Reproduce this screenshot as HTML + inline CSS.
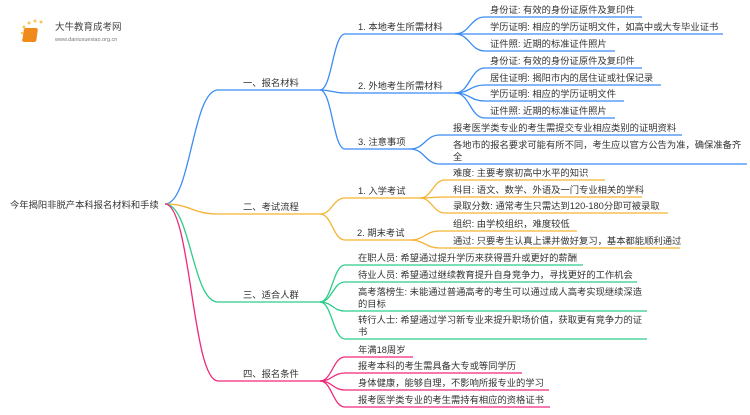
<!DOCTYPE html>
<html><head><meta charset="utf-8"><style>
body{margin:0;background:#fff;width:750px;height:410px;overflow:hidden}
svg text{font-family:"Liberation Sans","Noto Sans CJK SC",sans-serif;font-size:9.3px;fill:#333}
</style></head><body>
<svg width="750" height="410" xmlns="http://www.w3.org/2000/svg">
<g>
<circle cx="24" cy="27" r="1.5" fill="#f7c75a"/><circle cx="29" cy="23" r="1.5" fill="#f7c75a"/><circle cx="35" cy="21" r="1.5" fill="#f7c75a"/><circle cx="41" cy="22" r="1.5" fill="#f7c75a"/><circle cx="22" cy="33" r="1.3" fill="#f7c75a"/><circle cx="23" cy="40" r="1.2" fill="#f7c75a"/>
<rect x="28" y="28" width="14" height="14" rx="2" fill="#f08a1c" transform="skewX(-8)"/>
<text x="55" y="30" style="font-size:9.5px;fill:#444">大牛教育成考网</text>
<text x="55" y="41" style="font-size:5.5px;fill:#777">www.daniuxuexiao.org.cn</text>
</g>
<g fill="none" stroke-width="1.3">
<g stroke="#3b8cf5">
<path d="M165 204 C191 204,192 90,218 90 H320"/>
<path d="M320 90 C332 90,333 34,345 34 H455"/>
<path d="M320 90 C332 90,333 93,345 93 H455"/>
<path d="M320 90 C332 90,333 149,345 149 H410"/>
<path d="M455 34 C470 34,470 17,485 17 H642"/>
<path d="M455 34 C470 34,470 34,485 34 H723"/>
<path d="M455 34 C470 34,470 51,485 51 H615"/>
<path d="M455 93 C470 93,470 68,485 68 H642"/>
<path d="M455 93 C470 93,470 85,485 85 H661"/>
<path d="M455 93 C470 93,470 101,485 101 H624"/>
<path d="M455 93 C470 93,470 118,485 118 H615"/>
<path d="M410 149 C425 149,425 135,440 135 H682"/>
<path d="M410 149 C425 149,425 164,440 164 H747"/>
</g>
<g stroke="#f5b335">
<path d="M165 204 C191 204,192 214,218 214 H320"/>
<path d="M320 214 C332 214,333 198,345 198 H420"/>
<path d="M320 214 C332 214,333 240,345 240 H410"/>
<path d="M420 198 C432 198,433 180,445 180 H605"/>
<path d="M420 198 C432 198,433 197,445 197 H642"/>
<path d="M420 198 C432 198,433 213,445 213 H668"/>
<path d="M410 240 C425 240,425 231,440 231 H577"/>
<path d="M410 240 C425 240,425 248,440 248 H680"/>
</g>
<g stroke="#2ecc8a">
<path d="M165 204 C191 204,192 302,218 302 H320"/>
<path d="M320 302 C332 302,333 265,345 265 H583"/>
<path d="M320 302 C332 302,333 282,345 282 H637"/>
<path d="M320 302 C332 302,333 311,345 311 H647"/>
<path d="M320 302 C332 302,333 339,345 339 H647"/>
</g>
<g stroke="#f0287a">
<path d="M165 204 C191 204,192 381,218 381 H320"/>
<path d="M320 381 C332 381,333 357,345 357 H413"/>
<path d="M320 381 C332 381,333 373,345 373 H522"/>
<path d="M320 381 C332 381,333 390,345 390 H549"/>
<path d="M320 381 C332 381,333 407,345 407 H550"/>
</g>
</g>
<text x="10" y="208">今年揭阳非脱产本科报名材料和手续</text>
<text x="243" y="86">一、报名材料</text>
<text x="358" y="30">1. 本地考生所需材料</text>
<text x="358" y="89">2. 外地考生所需材料</text>
<text x="358" y="145">3. 注意事项</text>
<text x="490" y="13">身份证: 有效的身份证原件及复印件</text>
<text x="490" y="30">学历证明: 相应的学历证明文件，如高中或大专毕业证书</text>
<text x="490" y="47">证件照: 近期的标准证件照片</text>
<text x="490" y="64">身份证: 有效的身份证原件及复印件</text>
<text x="490" y="81">居住证明: 揭阳市内的居住证或社保记录</text>
<text x="490" y="97">学历证明: 相应的学历证明文件</text>
<text x="490" y="114">证件照: 近期的标准证件照片</text>
<text x="453" y="131">报考医学类专业的考生需提交专业相应类别的证明资料</text>
<text x="453" y="148">各地市的报名要求可能有所不同，考生应以官方公告为准，确保准备齐</text>
<text x="453" y="160">全</text>
<text x="243" y="210">二、考试流程</text>
<text x="358" y="194">1. 入学考试</text>
<text x="357" y="236">2. 期末考试</text>
<text x="453" y="176">难度: 主要考察初高中水平的知识</text>
<text x="453" y="193">科目: 语文、数学、外语及一门专业相关的学科</text>
<text x="453" y="209">录取分数: 通常考生只需达到120-180分即可被录取</text>
<text x="453" y="227">组织: 由学校组织，难度较低</text>
<text x="453" y="244">通过: 只要考生认真上课并做好复习，基本都能顺利通过</text>
<text x="243" y="298">三、适合人群</text>
<text x="358" y="261">在职人员: 希望通过提升学历来获得晋升或更好的薪酬</text>
<text x="358" y="278">待业人员: 希望通过继续教育提升自身竞争力，寻找更好的工作机会</text>
<text x="358" y="295">高考落榜生: 未能通过普通高考的考生可以通过成人高考实现继续深造</text>
<text x="358" y="307">的目标</text>
<text x="358" y="323">转行人士: 希望通过学习新专业来提升职场价值，获取更有竞争力的证</text>
<text x="358" y="335">书</text>
<text x="243" y="377">四、报名条件</text>
<text x="358" y="353">年满18周岁</text>
<text x="358" y="369">报考本科的考生需具备大专或等同学历</text>
<text x="358" y="386">身体健康，能够自理，不影响所报专业的学习</text>
<text x="358" y="403">报考医学类专业的考生需持有相应的资格证书</text>
</svg>
</body></html>
